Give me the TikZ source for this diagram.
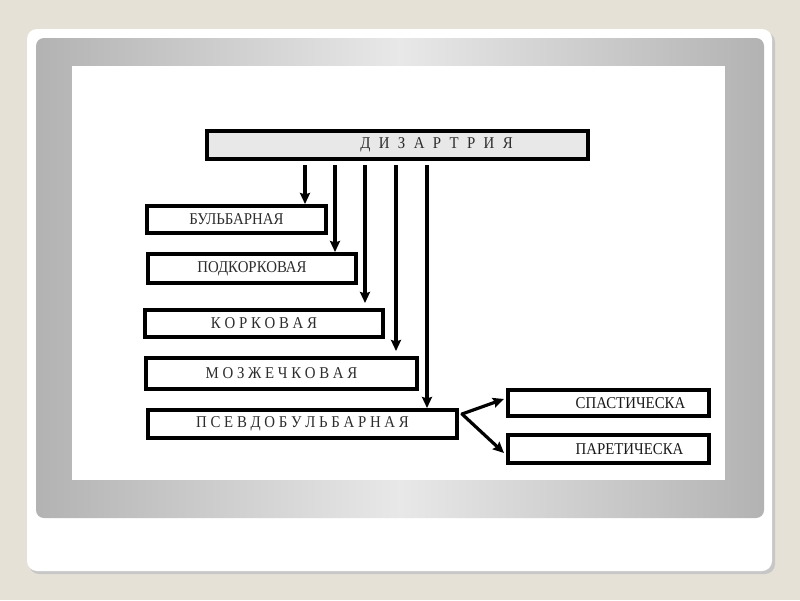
\documentclass[tikz,border=0pt]{standalone}
\usepackage{fontspec}
\setmainfont{Liberation Serif}
\newfontfamily\boxfont[FakeStretch=0.9]{Liberation Serif}
\usetikzlibrary{arrows.meta,calc}
\definecolor{beige}{RGB}{230,225,214}
\definecolor{txt}{RGB}{45,45,45}
\begin{document}
\begin{tikzpicture}[x=1pt,y=-1pt,
  bfont/.style={font=\boxfont\fontsize{16.5}{19}\selectfont},
  box/.style={draw=black,line width=4pt,anchor=north west,inner sep=0pt,
    bfont,text=txt},
  arr/.style={line width=3.2pt,-{Stealth[length=11pt,width=10pt,inset=1.5pt]}}]
\useasboundingbox (0,0) rectangle (800,600);
\fill[beige] (0,0) rectangle (800,600);
% frame shadow
\fill[black!22,rounded corners=10pt] (29,32) rectangle (775,574);
\fill[white,rounded corners=10pt] (27,29) rectangle (772,571);
% gray panel
\shade[left color=gray!60,right color=gray!60,middle color=gray!18,rounded corners=8pt] (36,38) rectangle (764,518);
\fill[white] (72,66) rectangle (725,480);
% boxes
\node[box,fill=gray!18,minimum width=381pt,minimum height=28pt,
  label={[bfont,text=txt,xshift=39pt]center:{\spaceskip=8.4pt Д И З А Р Т Р И Я}}] (top) at (205,129) {};
\node[box,minimum width=179pt,minimum height=27pt] (bul) at (145,204) {БУЛЬБАРНАЯ};
\node[box,minimum width=208pt,minimum height=29pt] (pod) at (146,252) {ПОДКОРКОВАЯ};
\node[box,minimum width=238pt,minimum height=27pt] (kor) at (143,308) {К О Р К О В А Я};
\node[box,minimum width=271pt,minimum height=31pt] (moz) at (144,356) {М О З Ж Е Ч К О В А Я};
\node[box,minimum width=309pt,minimum height=28pt] (psv) at (146,408) {П С Е В Д О Б У Л Ь Б А Р Н А Я};
\node[box,minimum width=201pt,minimum height=26pt,
  label={[bfont,text=black!90,xshift=22pt]center:{СПАСТИЧЕСКА}}] (spa) at (506,388) {};
\node[box,minimum width=201pt,minimum height=28pt,
  label={[bfont,text=black!90,xshift=21pt]center:{ПАРЕТИЧЕСКА}}] (par) at (506,433) {};
% arrow columns
\coordinate (c1) at (305,0);
\coordinate (c2) at (335,0);
\coordinate (c3) at (365,0);
\coordinate (c4) at (396,0);
\coordinate (c5) at (427,0);
\draw[arr,shorten <=4pt] (top.south -| c1) -- (c1 |- bul.north);
\draw[arr,shorten <=4pt] (top.south -| c2) -- (c2 |- pod.north);
\draw[arr,shorten <=4pt,shorten >=5pt] (top.south -| c3) -- (c3 |- kor.north);
\draw[arr,shorten <=4pt,shorten >=5pt] (top.south -| c4) -- (c4 |- moz.north);
\draw[arr,shorten <=4pt] (top.south -| c5) -- (c5 |- psv.north);
\coordinate (ps) at ([xshift=3pt,yshift=10pt]psv.east);
\draw[arr,line cap=round] (ps) -- ([xshift=-2pt,yshift=4pt]spa.west);
\draw[arr,line cap=round] (ps) -- ([xshift=-2pt,yshift=-4pt]par.west);
\end{tikzpicture}
\end{document}
